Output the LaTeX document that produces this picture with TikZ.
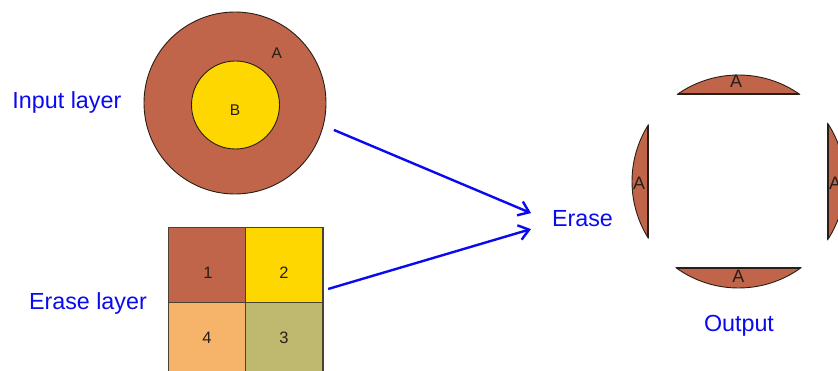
\documentclass[tikz,border=0pt]{standalone}
\usepackage{fontspec}
\setmainfont{Liberation Sans}
\usetikzlibrary{arrows.meta,calc}
\definecolor{soil}{RGB}{192,101,74}
\definecolor{gold}{RGB}{255,215,0}
\definecolor{peach}{RGB}{245,180,105}
\definecolor{olive}{RGB}{190,185,110}
\definecolor{ink}{RGB}{10,10,240}
\definecolor{edge}{RGB}{40,30,25}
\definecolor{seam}{RGB}{75,65,50}

\begin{document}
\begin{tikzpicture}[x=1pt,y=-1pt,
  caption/.style={text=ink, font=\fontsize{23.3}{27}\selectfont, inner sep=0pt, outer sep=0pt, anchor=base west},
  featlabel/.style={text=edge, font=\fontsize{15.5}{18}\selectfont, inner sep=0pt},
  zonelabel/.style={text=edge, font=\fontsize{16.5}{19}\selectfont, inner sep=0pt},
  outlabel/.style={text=edge, font=\fontsize{18}{20}\selectfont, inner sep=0pt},
  disc/.style={circle, draw=edge, line width=0.9pt, inner sep=0pt, outer sep=0pt},
  cell/.style={rectangle, draw=seam, line width=1.4pt, minimum width=77.4pt, minimum height=75.5pt, inner sep=0pt, outer sep=0pt},
  flow/.style={draw=ink, line width=2.4pt, -{Straight Barb[length=10pt,width=15pt]}}]
\clip (0,0) rectangle (838,371);

% input layer: polygon A with polygon B inside
\node[disc, fill=soil, minimum size=182pt] (outer) at (235,103) {};
\node[disc, fill=gold, minimum size=88pt] (inner) at (235.5,105) {};
\node[featlabel] (la) at (276.7,52.7) {A};
\node[featlabel] (lb) at (235,110) {B};
\node[caption] (incap) at (12.5,108.5) {Input layer};

% erase layer: four zones
\node[cell, fill=soil]  (c1) at (207,265) {};
\node[cell, fill=gold]  (c2) at (284.4,265) {};
\node[cell, fill=olive] (c3) at (284.4,340.5) {};
\node[cell, fill=peach] (c4) at (207,340.5) {};
\node[zonelabel] at (208,273) {1};
\node[zonelabel] at (284,273) {2};
\node[zonelabel] at (284,337.5) {3};
\node[zonelabel] at (207,337.5) {4};
\node[caption] (ercap) at (29,309.3) {Erase layer};

% operation
\node[caption] (erase) at (552,226.5) {Erase};
\draw[flow] ($(outer.-15)+(11,3.4)$) -- ($(erase.west)+(-21,-5.5)$);
\draw[flow] ($(c2.east)+(5,24)$) -- ($(erase.west)+(-21,10.5)$);

% output: A with the erase square cut out
\node[disc, fill=soil, minimum size=213pt] (result) at (738.5,181.5) {};
\fill[white] (648,94) rectangle (828,268);
\begin{scope}
  \clip (result.center) circle (106.5);
  \draw[edge, line width=1.3pt] (648,94) rectangle (828,268);
\end{scope}
\node[outlabel] at (736,81.7) {A};
\node[outlabel] at (738.3,276) {A};
\node[outlabel] at (639,183) {A};
\node[outlabel] at (835,183) {A};
\node[caption] (outcap) at (704,331.5) {Output};
\end{tikzpicture}
\end{document}
